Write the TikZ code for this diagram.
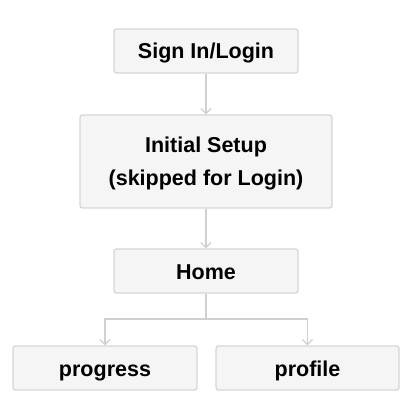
\documentclass[tikz,border=0pt]{standalone}
\usepackage{fontspec}
\setmainfont{Liberation Sans}
\usetikzlibrary{arrows.meta}
\definecolor{boxfill}{HTML}{F5F5F5}
\definecolor{boxline}{HTML}{D6D6D6}
\definecolor{linkline}{HTML}{D0D0D0}
\tikzset{
  flowbox/.style={draw=boxline, line width=1.3pt, fill=boxfill, rounded corners=2.5pt,
    inner sep=0pt, align=center, font=\fontsize{21.5}{33}\selectfont\bfseries},
  onebox/.style={flowbox, minimum width=184pt, minimum height=44pt, text height=16pt, text depth=0pt},
  link/.style={draw=linkline, line width=1.3pt, -{Straight Barb[length=5pt,width=10pt,line width=1.3pt]}}
}
\begin{document}
\begin{tikzpicture}[x=1pt,y=-1pt]
\useasboundingbox (0,0) rectangle (415,419);
\node[onebox] (sign) at (206,51) {Sign In/Login};
\node[flowbox, minimum width=252pt, minimum height=93pt, text height=49pt, text depth=0pt] (setup) at (206,161.5) {Initial Setup\\(skipped for Login)};
\node[onebox] (home) at (206,271) {Home};
\node[onebox] (prog) at (105,368) {progress};
\node[onebox, minimum width=183pt] (prof) at (307.5,368) {profile};
\coordinate (split) at (206,319);
\draw[link] (sign) -- (setup);
\draw[link] (setup) -- (home);
\draw[link] (home.south) -- (split) -| (prog.north);
\draw[link] (split) -| (prof.north);
\end{tikzpicture}
\end{document}
